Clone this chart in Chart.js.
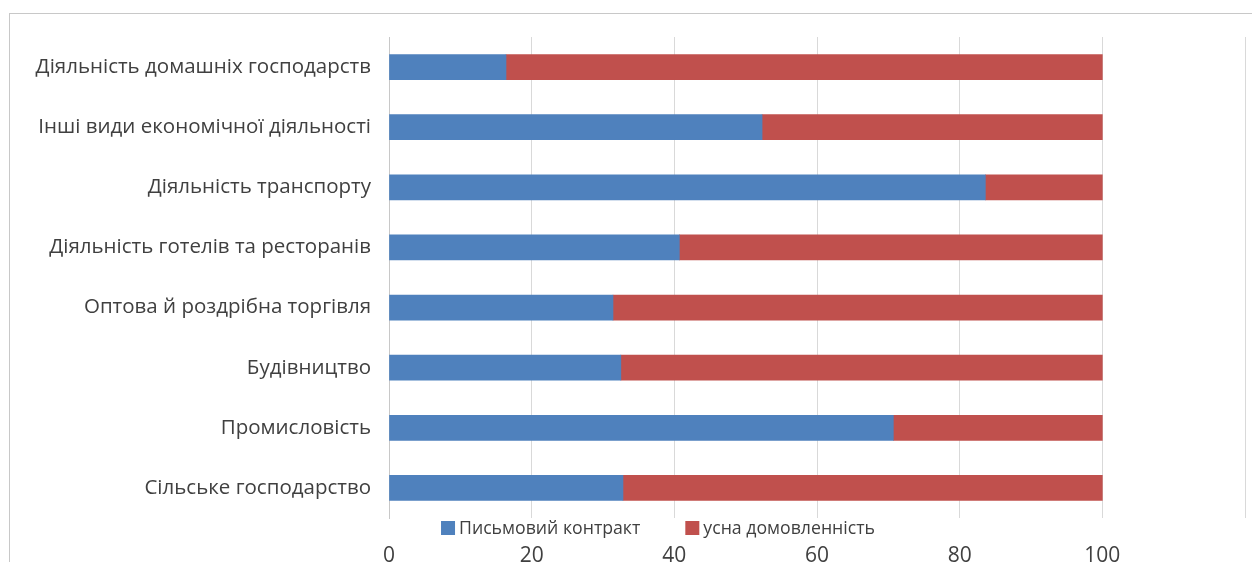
<!DOCTYPE html>
<html>
<head>
<meta charset="utf-8">
<script src="https://cdn.jsdelivr.net/npm/chart.js@4/dist/chart.umd.min.js"></script>
<style>
    html, body { margin: 0; padding: 0; background: #fff; overflow: hidden; }
    body { width: 1252px; height: 562px; position: relative; }
    .frame {
        position: absolute; left: 9px; top: 13px;
        width: 1243px; height: 580px;
        border-left: 1px solid #c8c8c8; border-top: 1px solid #c8c8c8;
    }
    .frame canvas { position: absolute; left: 0; top: 0; }
</style>
</head>
<body>
<div class="frame"><canvas id="chart" width="1242" height="570"></canvas></div>
<script>
// --- Data ---
const categories = [
    "Діяльність домашніх господарств",
    "Інші види економічної діяльності",
    "Діяльність транспорту",
    "Діяльність готелів та ресторанів",
    "Оптова й роздрібна торгівля",
    "Будівництво",
    "Промисловість",
    "Сільське господарство"
];
const seriesNames = ["Письмовий контракт", "усна домовленність"];
const writtenContract = [16.4, 52.3, 83.6, 40.7, 31.4, 32.5, 70.7, 32.8];
const oralAgreement  = [83.6, 47.7, 16.4, 59.3, 68.6, 67.5, 29.3, 67.2];
const xTickLabels = [0, 20, 40, 60, 80, 100];

const FONT = "'Open Sans', 'Noto Sans', sans-serif";
const TEXT = "#404040";

// --- Legend drawn between plot and x labels (like the original) ---
const midLegend = {
    id: "midLegend",
    afterDraw(chart) {
        const ctx = chart.ctx;
        const box = 14, gap = 4, itemGap = 45, cx = 648, cy = 514;
        ctx.save();
        ctx.font = "17.7px " + FONT;
        ctx.textBaseline = "middle";
        const items = chart.data.datasets.map(ds => ({
            label: ds.label, color: ds.backgroundColor,
            w: box + gap + ctx.measureText(ds.label).width
        }));
        const total = items.reduce((s, it) => s + it.w, 0) + itemGap * (items.length - 1);
        let x = cx - total / 2;
        items.forEach(it => {
            ctx.fillStyle = it.color;
            ctx.fillRect(x, cy - box / 2, box, box);
            ctx.fillStyle = TEXT;
            ctx.fillText(it.label, x + box + gap, cy + 1);
            x += it.w + itemGap;
        });
        ctx.restore();
    }
};

new Chart(document.getElementById("chart"), {
    type: "bar",
    data: {
        labels: categories,
        datasets: [
            { label: seriesNames[0], data: writtenContract, backgroundColor: "#4f81bd" },
            { label: seriesNames[1], data: oralAgreement, backgroundColor: "#c0504d" }
        ]
    },
    options: {
        indexAxis: "y",
        responsive: false,
        animation: false,
        layout: { padding: { top: 23, right: 7, bottom: 0, left: 0 } },
        datasets: { bar: { barThickness: 25 } },
        plugins: { legend: { display: false }, tooltip: { enabled: false } },
        scales: {
            x: {
                stacked: true,
                min: 0, max: 120,
                grid: { color: "#d9d9d9", drawTicks: false },
                border: { display: false },
                ticks: {
                    stepSize: 20, padding: 25, color: TEXT,
                    font: { family: FONT, size: 21 },
                    callback: v => xTickLabels.includes(v) ? v : ""
                },
                afterFit(scale) {
                    scale.height = 66;
                    scale.paddingLeft = 0; scale.paddingRight = 0;
                }
            },
            y: {
                stacked: true,
                grid: { display: false, drawTicks: false },
                border: { display: true, color: "#c8c8c8" },
                ticks: { padding: 18, color: TEXT, font: { family: FONT, size: 20.5 } },
                afterFit(scale) {
                    scale.width = 379;
                    scale.paddingTop = 0; scale.paddingBottom = 0;
                }
            }
        }
    },
    plugins: [midLegend]
});
</script>
</body>
</html>
